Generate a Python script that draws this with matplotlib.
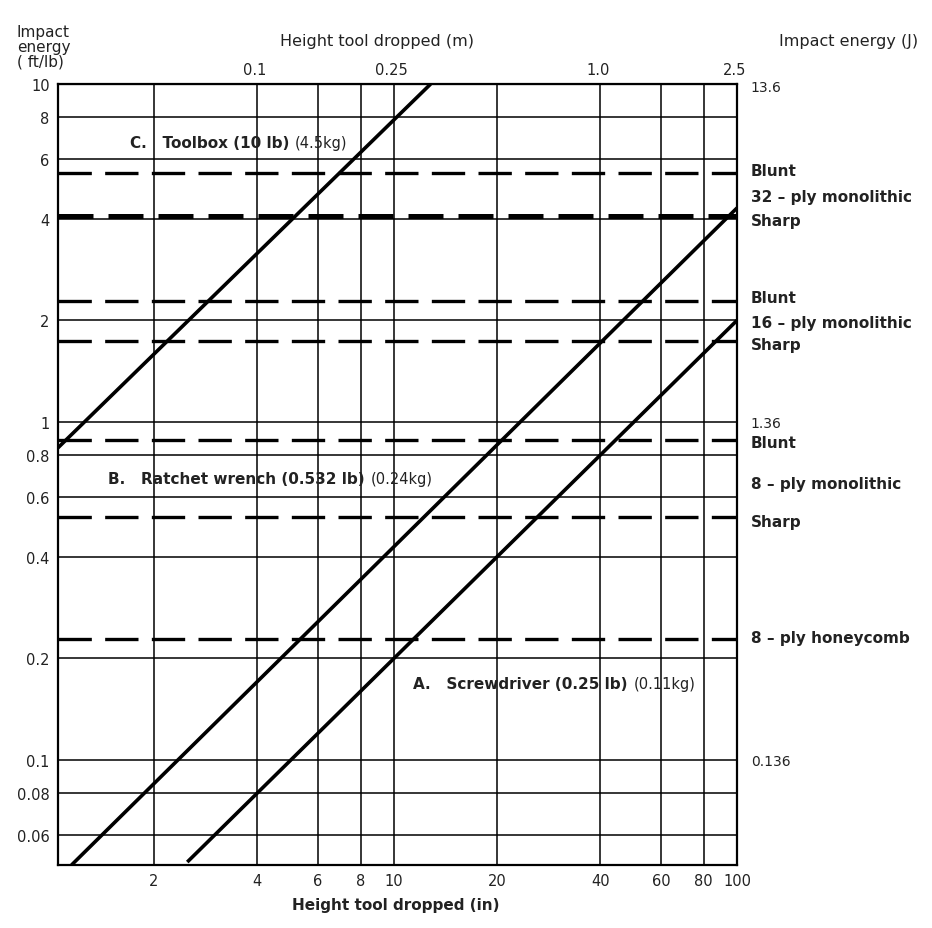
import matplotlib
matplotlib.use("Agg")
import matplotlib.pyplot as plt
from matplotlib import transforms

plt.rcParams['font.family'] = ['DejaVu Sans']

# axis ticks
x_ticks = [2, 4, 6, 8, 10, 20, 40, 60, 80, 100]
y_ticks = [0.06, 0.08, 0.1, 0.2, 0.4, 0.6, 0.8, 1, 2, 4, 6, 8, 10]
y_ticklabels = ["0.06", "0.08", "0.1", "0.2", "0.4", "0.6", "0.8", "1", "2", "4", "6", "8", "10"]
m_ticks = [0.1, 0.25, 1.0, 2.5]
m_ticklabels = ["0.1", "0.25", "1.0", "2.5"]
j_ticks = [0.136, 1.36, 13.45]
j_ticklabels = ["0.136", "1.36", "13.6"]

toolbox_h = [1.0, 12.8]
toolbox_e = [0.80, 10.0]
ratchet_h = [1.15, 100]
ratchet_e = [0.049, 4.3]
screwdriver_h = [2.5, 100]
screwdriver_e = [0.05, 2.0]

# damage threshold lines (ft/lb)
thresholds = [5.45, 4.07, 2.28, 1.74, 0.885, 0.524, 0.228]
threshold_thick = [False, True, False, False, False, False, False]

# right side labels (energy position, text)
side_labels = [(5.55, "Blunt"), (4.65, "32 – ply monolithic"), (3.95, "Sharp"),
               (2.33, "Blunt"), (1.97, "16 – ply monolithic"), (1.70, "Sharp"),
               (0.87, "Blunt"), (0.66, "8 – ply monolithic"), (0.51, "Sharp"),
               (0.23, "8 – ply honeycomb")]

fig = plt.figure(figsize=(9.32, 9.29), dpi=100)
ax = fig.add_axes([0.0622, 0.0678, 0.7286, 0.8407])
ax.set_xscale("log")
ax.set_yscale("log")
ax.set_xlim(1.05, 100)
ax.set_ylim(0.049, 10)

ax.set_xticks(x_ticks)
ax.set_xticklabels([str(v) for v in x_ticks])
ax.set_yticks(y_ticks)
ax.set_yticklabels(y_ticklabels)
ax.minorticks_off()
ax.tick_params(length=0, labelsize=10.5, colors="#222222", pad=6)
ax.grid(True, which="major", color="black", lw=1.1)
for s in ax.spines.values():
    s.set_linewidth(1.6)

# tool lines
for h, e in [(toolbox_h, toolbox_e), (ratchet_h, ratchet_e), (screwdriver_h, screwdriver_e)]:
    ax.plot(h, e, color="black", lw=2.6, solid_capstyle="butt")

# dashed thresholds
for v, thick in zip(thresholds, threshold_thick):
    ax.axhline(v, color="black", lw=3.6 if thick else 2.4, dashes=(10, 4) if not thick else (7, 3))

# labels on the lines
def two_part(x, y, bold_txt, light_txt):
    t = ax.text(x, y, bold_txt, fontsize=11, fontweight="bold", color="#222222",
                va="center", ha="left")
    ax.annotate(light_txt, xy=(1, 0.5), xycoords=t, xytext=(4, 0),
                textcoords="offset points", fontsize=10.5, color="#222222",
                va="center", ha="left")

two_part(1.7, 6.7, "C.   Toolbox (10 lb)", "(4.5kg)")
two_part(1.47, 0.68, "B.   Ratchet wrench (0.532 lb)", "(0.24kg)")
two_part(11.4, 0.169, "A.   Screwdriver (0.25 lb)", "(0.11kg)")

# right-side material labels
tr = transforms.blended_transform_factory(ax.transAxes, ax.transData)
for v, txt in side_labels:
    ax.text(1.02, v, txt, transform=tr, fontsize=11, fontweight="bold",
            color="#222222", va="center", ha="left", clip_on=False)

# top axis in metres
sec_x = ax.secondary_xaxis("top", functions=(lambda x: x * 0.0254, lambda m: m / 0.0254))
sec_x.set_xticks(m_ticks)
sec_x.set_xticklabels(m_ticklabels)
sec_x.minorticks_off()
sec_x.tick_params(length=0, labelsize=10.5, colors="#222222", pad=5)

# right axis in joules
sec_y = ax.secondary_yaxis("right", functions=(lambda e: e * 1.356, lambda j: j / 1.356))
sec_y.set_yticks(j_ticks)
sec_y.set_yticklabels(j_ticklabels)
sec_y.minorticks_off()
sec_y.tick_params(length=0, labelsize=10, colors="#222222", pad=10)
sec_y.spines["right"].set_visible(False)

# titles
fig.text(0.018, 0.925, "Impact\nenergy\n( ft/lb)", fontsize=11, color="#222222",
         ha="left", va="bottom", linespacing=1.0)
fig.text(0.405, 0.955, "Height tool dropped (m)", fontsize=11.5, color="#222222",
         ha="center", va="center")
fig.text(0.91, 0.955, "Impact energy (J)", fontsize=11.5, color="#222222",
         ha="center", va="center")
fig.text(0.425, 0.025, "Height tool dropped (in)", fontsize=11, fontweight="bold",
         color="#222222", ha="center", va="center")

fig.savefig("out.png", dpi=100)
